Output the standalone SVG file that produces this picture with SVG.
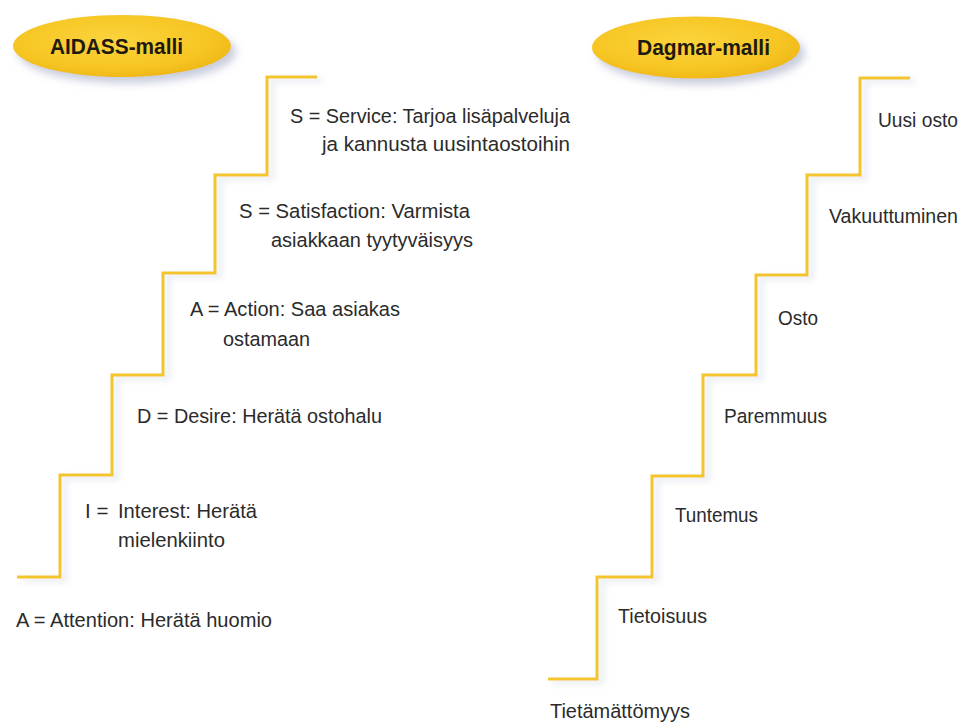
<svg xmlns="http://www.w3.org/2000/svg" width="963" height="724" viewBox="0 0 963 724">
  <defs>
    <radialGradient id="yel" cx="0.45" cy="0.4" r="0.65">
      <stop offset="0" stop-color="#FBD43C"/>
      <stop offset="0.7" stop-color="#F6C523"/>
      <stop offset="1" stop-color="#EDB514"/>
    </radialGradient>
    <filter id="sh" x="-20%" y="-20%" width="150%" height="160%">
      <feGaussianBlur in="SourceAlpha" stdDeviation="4"/>
      <feOffset dx="5" dy="6" result="b"/>
      <feFlood flood-color="#9aa3bf" flood-opacity="0.55"/>
      <feComposite in2="b" operator="in"/>
      <feMerge><feMergeNode/><feMergeNode in="SourceGraphic"/></feMerge>
    </filter>
    <filter id="lsh" x="-20%" y="-5%" width="140%" height="110%">
      <feGaussianBlur in="SourceAlpha" stdDeviation="3"/>
      <feOffset dx="5" dy="3" result="b"/>
      <feFlood flood-color="#b4bcd2" flood-opacity="0.45"/>
      <feComposite in2="b" operator="in"/>
      <feMerge><feMergeNode/><feMergeNode in="SourceGraphic"/></feMerge>
    </filter>
  </defs>
  <style>
    .t { font-family: "Liberation Sans", Arial, sans-serif; font-size: 20.5px; fill: #2b2b2b; }
    .h { font-family: "Liberation Sans", Arial, sans-serif; font-size: 22px; font-weight: bold; fill: #1e1a10; }
    .stair { fill: none; stroke: #F3C52C; stroke-width: 3; stroke-linejoin: miter; }
  </style>
  <rect width="963" height="724" fill="#ffffff"/>

  <g id="connectors">
    <path class="stair" filter="url(#lsh)" d="M17,577 H60 V475 H112 V375 H163 V273 H215 V175 H267 V77 H317"/>
    <path class="stair" filter="url(#lsh)" d="M548,679 H597 V577 H652 V476 H703 V375 H756 V275 H807 V175 H860 V78 H910"/>
  </g>

  <g id="aidass-header">
    <ellipse cx="122" cy="46" rx="109" ry="31" fill="url(#yel)" filter="url(#sh)"/>
    <text class="h" x="50" y="54" textLength="133" lengthAdjust="spacingAndGlyphs">AIDASS-malli</text>
  </g>
  <g id="dagmar-header">
    <ellipse cx="696" cy="47.5" rx="104" ry="31" fill="url(#yel)" filter="url(#sh)"/>
    <text class="h" x="637" y="55" textLength="133" lengthAdjust="spacingAndGlyphs">Dagmar-malli</text>
  </g>

  <g id="aidass-service">
    <text class="t" x="290" y="123" textLength="280" lengthAdjust="spacingAndGlyphs">S = Service: Tarjoa lisäpalveluja</text>
    <text class="t" x="322" y="151" textLength="248" lengthAdjust="spacingAndGlyphs">ja kannusta uusintaostoihin</text>
  </g>
  <g id="aidass-satisfaction">
    <text class="t" x="239" y="218" textLength="231" lengthAdjust="spacingAndGlyphs">S = Satisfaction: Varmista</text>
    <text class="t" x="271" y="247" textLength="202" lengthAdjust="spacingAndGlyphs">asiakkaan tyytyväisyys</text>
  </g>
  <g id="aidass-action">
    <text class="t" x="190" y="316" textLength="210" lengthAdjust="spacingAndGlyphs">A = Action: Saa asiakas</text>
    <text class="t" x="223" y="346" textLength="87" lengthAdjust="spacingAndGlyphs">ostamaan</text>
  </g>
  <g id="aidass-desire">
    <text class="t" x="137" y="423" textLength="245" lengthAdjust="spacingAndGlyphs">D = Desire: Herätä ostohalu</text>
  </g>
  <g id="aidass-interest">
    <text class="t" x="85" y="518">I =</text>
    <text class="t" x="118" y="518" textLength="139" lengthAdjust="spacingAndGlyphs">Interest: Herätä</text>
    <text class="t" x="118" y="547" textLength="107" lengthAdjust="spacingAndGlyphs">mielenkiinto</text>
  </g>
  <g id="aidass-attention">
    <text class="t" x="16" y="627" textLength="256" lengthAdjust="spacingAndGlyphs">A = Attention: Herätä huomio</text>
  </g>

  <g id="dagmar-uusi-osto"><text class="t" x="878" y="127" textLength="80" lengthAdjust="spacingAndGlyphs">Uusi osto</text></g>
  <g id="dagmar-vakuuttuminen"><text class="t" x="829" y="223" textLength="129" lengthAdjust="spacingAndGlyphs">Vakuuttuminen</text></g>
  <g id="dagmar-osto"><text class="t" x="778" y="325" textLength="40" lengthAdjust="spacingAndGlyphs">Osto</text></g>
  <g id="dagmar-paremmuus"><text class="t" x="724" y="423" textLength="103" lengthAdjust="spacingAndGlyphs">Paremmuus</text></g>
  <g id="dagmar-tuntemus"><text class="t" x="675" y="522" textLength="83" lengthAdjust="spacingAndGlyphs">Tuntemus</text></g>
  <g id="dagmar-tietoisuus"><text class="t" x="618" y="623" textLength="89" lengthAdjust="spacingAndGlyphs">Tietoisuus</text></g>
  <g id="dagmar-tietamattomyys"><text class="t" x="550" y="718" textLength="140" lengthAdjust="spacingAndGlyphs">Tietämättömyys</text></g>
</svg>
